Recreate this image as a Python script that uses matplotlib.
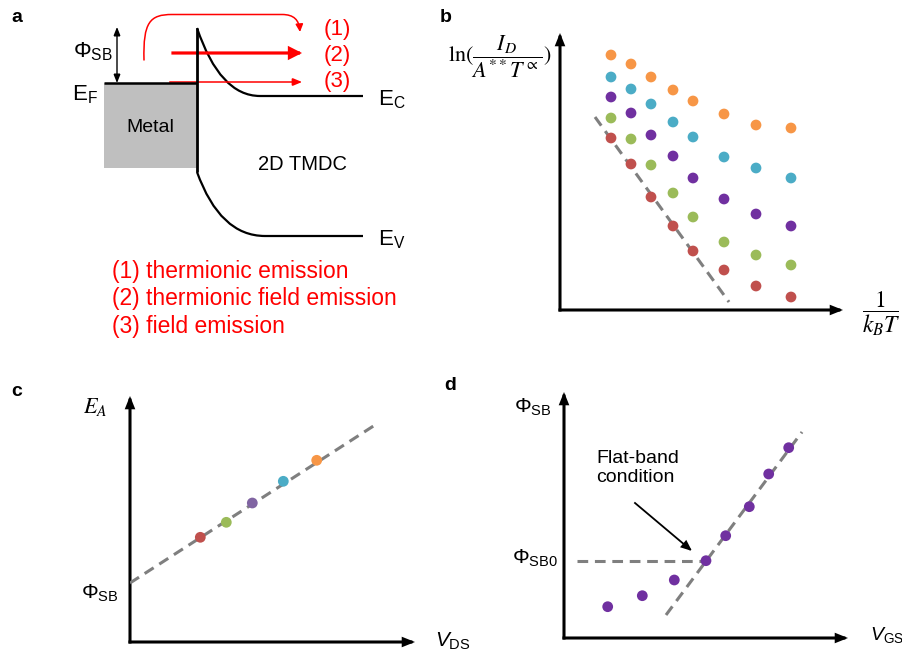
import matplotlib
matplotlib.use("Agg")
import matplotlib.pyplot as plt
from matplotlib.path import Path
from matplotlib.patches import FancyArrowPatch, PathPatch, Rectangle

plt.rcParams["font.family"] = ["Liberation Sans", "DejaVu Sans"]
plt.rcParams["mathtext.fontset"] = "custom"
plt.rcParams["mathtext.rm"] = "Liberation Sans"
plt.rcParams["mathtext.it"] = "Liberation Sans:italic"
plt.rcParams["mathtext.bf"] = "Liberation Sans:bold"

W, H = 903, 654

ORANGE = "#F79646"
CYAN = "#4BACC6"
PURPLE = "#7030A0"
GREEN = "#9BBB59"
RED = "#C0504D"
LIGHT_PURPLE = "#8064A2"
DASH_GREY = "#7F7F7F"

# ---------------------------------------------------------------------------
# panel a: band diagram (pixel units, y pointing down)
metal_box = (104, 83, 197, 168)          # left, top, right, bottom
ec_band = [(197, 28), (220, 96), (260, 96), (363, 96)]
ev_band = [(197, 172), (220, 236), (265, 236), (363, 236)]
te_path = [(144, 60), (143, 22), (150, 14.5), (172, 14.5),
           (282, 14.5), (294, 14.5), (299, 20), (300, 32)]
tfe_arrow = [(173, 53), (302, 53)]
fe_arrow = [(170, 82), (302, 82)]
mechanisms = ["(1) thermionic emission",
              "(2) thermionic field emission",
              "(3) field emission"]

# panel b: Arrhenius plot, one series per drain bias
b_x = [51, 71, 91, 113, 133, 164, 196, 231]
b_orange = [255, 246, 233, 220, 209, 196, 185, 182]
b_cyan = [233, 221, 206, 188, 173, 153, 142, 132]
b_purple = [213, 197, 175, 154, 132, 111, 96, 84]
b_green = [192, 171, 145, 117, 93, 68, 55, 45]
b_red = [172, 146, 113, 84, 59, 40, 24, 13]
b_fit = ([35, 169], [193, 8])

# panel c: activation energy vs drain bias
c_x = [70.3, 96.3, 122.3, 153.3, 186.7]
c_y = [104.7, 119.7, 139.0, 160.7, 181.7]
c_colors = [RED, GREEN, LIGHT_PURPLE, CYAN, ORANGE]
c_fit = ([0, 245], [59, 217])

# panel d: barrier height vs gate bias
d_x = [43.7, 78.3, 110.3, 142.0, 161.7, 185.3, 204.7, 224.7]
d_y = [31.3, 42.3, 58.0, 77.3, 102.3, 131.3, 164.0, 190.3]
d_flat = ([13, 139], [77, 77])
d_fit = ([102, 238], [23, 206])

fig = plt.figure(figsize=(W / 100, H / 100), dpi=100)


def arrow(ax, start, end, lw=2.2, color="k", hl=0.55, hw=0.22, style="-|>"):
    ax.add_patch(FancyArrowPatch(
        start, end, arrowstyle=f"{style},head_length={hl},head_width={hw}",
        mutation_scale=10, lw=lw, color=color, shrinkA=0, shrinkB=0,
        capstyle="projecting", joinstyle="miter", clip_on=False))


def schematic_axes(ox, oy, xlen, ylen):
    # axes whose data origin sits on pixel (ox, oy), one unit per pixel
    ax = fig.add_axes([ox / W, 1 - oy / H, xlen / W, ylen / H])
    ax.set_xlim(0, xlen)
    ax.set_ylim(0, ylen)
    ax.axis("off")
    arrow(ax, (0, 0), (xlen, 0))
    arrow(ax, (0, 0), (0, ylen))
    return ax


# ---------------------------------------------------------------------------
ax_a = fig.add_axes([0, 1 - 340 / H, 450 / W, 340 / H])
ax_a.set_xlim(0, 450)
ax_a.set_ylim(340, 0)
ax_a.axis("off")

l, t, r, b = metal_box
ax_a.add_patch(Rectangle((l, t), r - l, b - t, fc="#BFBFBF", ec="none"))
ax_a.plot([l, r], [t, t], color="k", lw=1.8, solid_capstyle="butt")
ax_a.plot([r, r], [ec_band[0][1], ev_band[0][1]], color="k", lw=2.0,
          solid_capstyle="butt")
band_codes = [Path.MOVETO, Path.CURVE3, Path.CURVE3, Path.LINETO]
for pts in (ec_band, ev_band):
    ax_a.add_patch(PathPatch(Path(pts, band_codes), fill=False, ec="k", lw=1.6))

arrow(ax_a, (117, 83), (117, 27), lw=1.0, hl=0.5, hw=0.2, style="<|-|>")

te_codes = [Path.MOVETO, Path.CURVE4, Path.CURVE4, Path.CURVE4,
            Path.LINETO, Path.CURVE4, Path.CURVE4, Path.CURVE4]
ax_a.add_patch(FancyArrowPatch(
    path=Path(te_path, te_codes), arrowstyle="-|>,head_length=0.45,head_width=0.22",
    mutation_scale=10, lw=1.1, color="red", clip_on=False))
arrow(ax_a, *tfe_arrow, lw=2.3, color="red", hl=0.65, hw=0.33)
arrow(ax_a, *fe_arrow, lw=1.1, color="red", hl=0.55, hw=0.23)

ax_a.text(73, 52, r"$\Phi_{\rm SB}$", fontsize=16, ha="left", va="center")
ax_a.text(72, 95, r"$\rm E_F$", fontsize=16, ha="left", va="center")
ax_a.text(378, 100, r"$\rm E_C$", fontsize=16, ha="left", va="center")
ax_a.text(378, 240, r"$\rm E_V$", fontsize=16, ha="left", va="center")
ax_a.text(150, 127, "Metal", fontsize=14, ha="center", va="center")
ax_a.text(303, 164, "2D TMDC", fontsize=14.5, ha="center", va="center")
for i, y in enumerate([29, 55, 82]):
    ax_a.text(337, y, f"({i + 1})", fontsize=16, color="red",
              ha="center", va="center")
for text, y in zip(mechanisms, [272, 299, 327]):
    ax_a.text(112, y, text, fontsize=16.5, color="red", ha="left", va="center")

# ---------------------------------------------------------------------------
ax_b = schematic_axes(560, 310, 283, 277)
ax_b.plot(*b_fit, color=DASH_GREY, lw=2.2, ls=(0, (3.5, 2.2)),
          solid_capstyle="butt")
for series, color in [(b_orange, ORANGE), (b_cyan, CYAN), (b_purple, PURPLE),
                      (b_green, GREEN), (b_red, RED)]:
    ax_b.scatter(b_x, series, s=60, color=color, edgecolors="none",
                 zorder=3, clip_on=False)
ax_b.text(-112, 253, r"$\ln(\dfrac{I_D}{A^{**}T^{\propto}})$", fontsize=16,
          math_fontfamily="stix", ha="left", va="center")
ax_b.text(321, -4, r"$\dfrac{1}{k_BT}$", fontsize=17, math_fontfamily="stix",
          ha="center", va="center")

# ---------------------------------------------------------------------------
ax_c = schematic_axes(130, 642, 285, 246)
ax_c.plot(*c_fit, color=DASH_GREY, lw=2.2, ls=(0, (3.5, 2.2)))
ax_c.scatter(c_x, c_y, s=60, c=c_colors, edgecolors="none", zorder=3,
             clip_on=False)
ax_c.text(-35, 235, r"$E_A$", fontsize=16, math_fontfamily="stix",
          ha="center", va="center")
ax_c.text(-30, 49, r"$\Phi_{\rm SB}$", fontsize=15, ha="center", va="center")
ax_c.text(305, 1, r"$V_{\rm DS}$", fontsize=15, ha="left", va="center")

# ---------------------------------------------------------------------------
ax_d = schematic_axes(564, 638, 284, 246)
ax_d.plot(*d_flat, color=DASH_GREY, lw=2.2, ls=(0, (3.5, 2.2)))
ax_d.plot(*d_fit, color=DASH_GREY, lw=2.2, ls=(0, (3.5, 2.2)))
ax_d.scatter(d_x, d_y, s=60, color=PURPLE, edgecolors="none", zorder=3,
             clip_on=False)
arrow(ax_d, (71, 135), (128, 87), lw=1.3, hl=0.6, hw=0.25)
ax_d.text(32, 170, "Flat-band\ncondition", fontsize=14, ha="left",
          va="center", linespacing=1.1)
ax_d.text(-31, 231, r"$\Phi_{\rm SB}$", fontsize=15, ha="center", va="center")
ax_d.text(-29, 80, r"$\Phi_{\rm SB0}$", fontsize=15, ha="center", va="center")
ax_d.text(306, 3, r"$V_{\rm GS}$", fontsize=14, ha="left", va="center")

# ---------------------------------------------------------------------------
for letter, (x, y) in zip("abcd", [(17, 18), (446, 18), (17, 392), (450, 385)]):
    fig.text(x / W, 1 - y / H, letter, fontsize=14, fontweight="bold",
             ha="center", va="center")

fig.savefig("out.png", dpi=100)
